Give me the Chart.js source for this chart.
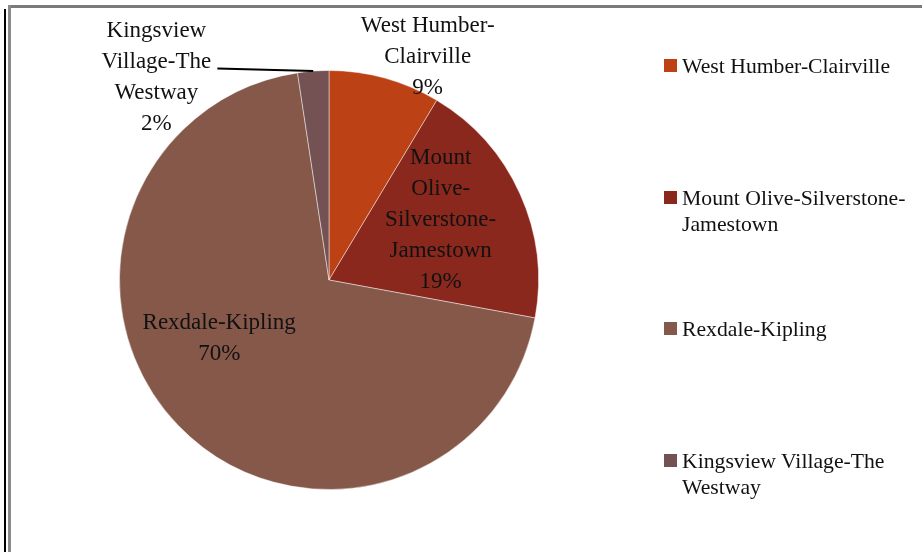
<!DOCTYPE html>
<html lang="en">
<head>
    <meta charset="UTF-8">
    <title>Neighbourhood share</title>
    <script src="https://cdn.jsdelivr.net/npm/chart.js"></script>
    <style>
        body {
            margin: 0;
            width: 923px;
            height: 552px;
            background: white;
            font-family: 'Liberation Serif', serif;
            position: relative;
            overflow: hidden;
        }
        .frame-top {
            position: absolute;
            left: 8px;
            top: 5px;
            width: 914px;
            height: 3px;
            background: #7a7a7a;
        }
        .frame-left-black {
            position: absolute;
            left: 4px;
            top: 9px;
            width: 2px;
            height: 543px;
            background: #000;
        }
        .frame-left-gray {
            position: absolute;
            left: 8px;
            top: 5px;
            width: 3px;
            height: 547px;
            background: #8a8a8a;
        }
        #pieChart {
            position: absolute;
            left: 0;
            top: 0;
        }
        #legend {
            position: absolute;
            left: 664px;
            top: 0;
        }
        .legend-item {
            position: absolute;
            left: 0;
            width: 255px;
            display: flex;
            align-items: flex-start;
            font-size: 21.7px;
            line-height: 26px;
            color: #111;
        }
        .legend-item span.box {
            flex: none;
            width: 13px;
            height: 13px;
            margin-top: 6px;
            margin-right: 5px;
        }
        .legend-item span.text {
            width: 228px;
        }
    </style>
</head>
<body>
    <div class="frame-top"></div>
    <div class="frame-left-black"></div>
    <div class="frame-left-gray"></div>
    <canvas id="pieChart" width="923" height="552"></canvas>
    <div id="legend"></div>

    <script>
        const neighbourhoods = ['West Humber-Clairville', 'Mount Olive-Silverstone-Jamestown', 'Rexdale-Kipling', 'Kingsview Village-The Westway'];
        const shares = [8.6, 19.3, 69.7, 2.4];
        const sliceColors = ['#bc4114', '#8a281e', '#85584a', '#745253'];
        // how the slice labels break into lines
        const labelLines = [
            ['West Humber-', 'Clairville'],
            ['Mount', 'Olive-', 'Silverstone-', 'Jamestown'],
            ['Rexdale-Kipling'],
            ['Kingsview', 'Village-The', 'Westway']
        ];

        // label centre, relative to pie centre, in units of radius
        const labelSpots = [[0.471, -1.067], [0.533, -0.286], [-0.524, 0.281], [-0.824, -0.967]];
        // leader line start for the small slice
        const leaderFrom = [-0.533, -1.010];

        const total = shares.reduce((a, b) => a + b, 0);

        const sliceLabels = {
            id: 'sliceLabels',
            afterDatasetsDraw(chart) {
                const ctx = chart.ctx;
                const arcs = chart.getDatasetMeta(0).data;
                ctx.save();
                ctx.font = '23px "Liberation Serif"';
                ctx.fillStyle = '#111';
                ctx.textAlign = 'center';
                ctx.textBaseline = 'middle';
                const lh = 31;
                arcs.forEach((arc, i) => {
                    const r = arc.outerRadius;
                    const cx = arc.x + labelSpots[i][0] * r;
                    const cy = arc.y + labelSpots[i][1] * r;
                    const lines = labelLines[i].concat([Math.round(shares[i] / total * 100) + '%']);
                    const y0 = cy - (lines.length - 1) * lh / 2;
                    lines.forEach((t, k) => ctx.fillText(t, cx, y0 + k * lh));
                });

                // leader line for Kingsview
                const a = arcs[3];
                const mid = (a.startAngle + a.endAngle) / 2;
                ctx.strokeStyle = '#000';
                ctx.lineWidth = 2;
                ctx.beginPath();
                ctx.moveTo(a.x + leaderFrom[0] * a.outerRadius, a.y + leaderFrom[1] * a.outerRadius);
                ctx.lineTo(a.x + Math.cos(mid) * a.outerRadius, a.y + Math.sin(mid) * a.outerRadius);
                ctx.stroke();
                ctx.restore();
            }
        };

        new Chart(document.getElementById('pieChart').getContext('2d'), {
            type: 'pie',
            data: {
                labels: neighbourhoods,
                datasets: [{
                    data: shares,
                    backgroundColor: sliceColors,
                    borderColor: 'rgba(255,255,255,0.45)',
                    borderWidth: 1
                }]
            },
            options: {
                responsive: false,
                animation: false,
                layout: {
                    padding: { left: 119, right: 384, top: 70, bottom: 62 }
                },
                plugins: {
                    legend: { display: false },
                    tooltip: { enabled: false }
                }
            },
            plugins: [sliceLabels]
        });

        // legend at the right
        const legend = document.getElementById('legend');
        neighbourhoods.forEach((name, i) => {
            const item = document.createElement('div');
            item.className = 'legend-item';
            item.style.top = (53 + i * 131.5) + 'px';
            item.innerHTML = '<span class="box" style="background:' + sliceColors[i] + '"></span><span class="text">' + name + '</span>';
            legend.appendChild(item);
        });
    </script>
</body>
</html>
